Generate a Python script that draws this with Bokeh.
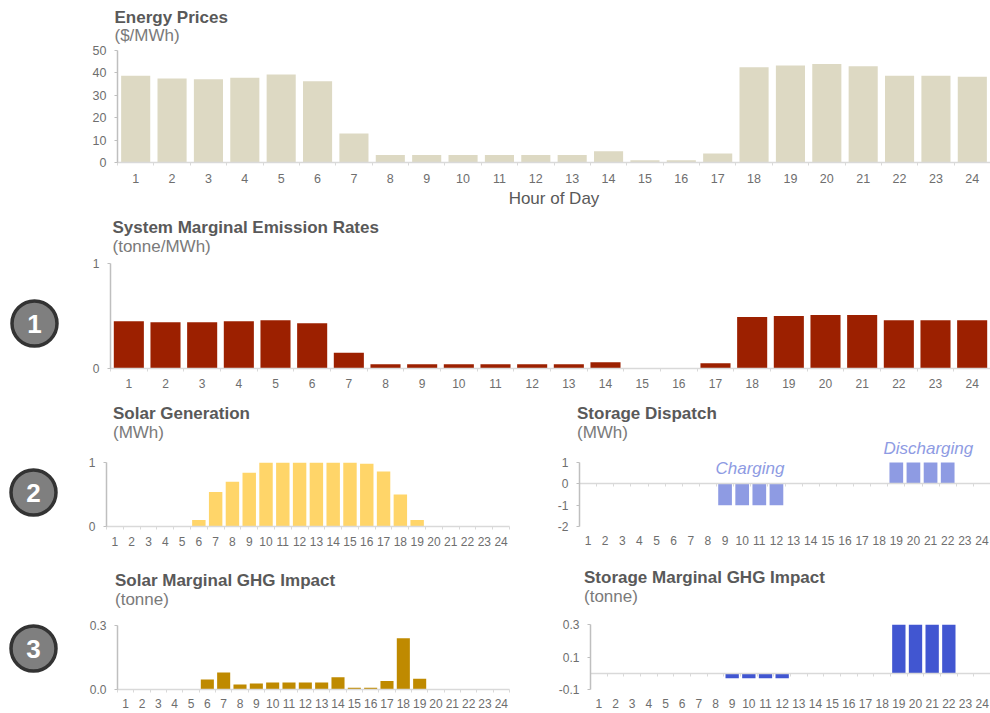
from bokeh.embed import file_html
from bokeh.resources import INLINE
from bokeh.plotting import figure
from bokeh.layouts import row, column
from bokeh.models import Range1d, LinearAxis, FixedTicker, Label, Title

hours = list(range(1, 25))
hour_labels = [str(h) for h in hours]

energy_prices = [38.7, 37.5, 37.2, 37.8, 39.3, 36.3, 13, 3.3, 3.3, 3.3, 3.3, 3.3, 3.3, 5, 1, 1, 4,
                 42.5, 43.3, 44, 43, 38.7, 38.7, 38.3]
emission_rates = [0.45, 0.44, 0.44, 0.45, 0.46, 0.43, 0.15, 0.04, 0.04, 0.04, 0.04, 0.04, 0.04, 0.06,
                  0, 0, 0.05, 0.49, 0.50, 0.51, 0.51, 0.46, 0.46, 0.46]
solar_generation = [0, 0, 0, 0, 0, 0.10, 0.54, 0.70, 0.84, 1, 1, 1, 1, 1, 1, 0.98, 0.86, 0.50, 0.10,
                    0, 0, 0, 0, 0]
storage_dispatch = [0, 0, 0, 0, 0, 0, 0, 0, -1, -1, -1, -1, 0, 0, 0, 0, 0, 0, 1, 1, 1, 1, 0, 0]
solar_ghg = [0, 0, 0, 0, 0, 0.047, 0.08, 0.023, 0.028, 0.033, 0.033, 0.033, 0.033, 0.058, 0.008, 0.008,
             0.04, 0.24, 0.05, 0, 0, 0, 0, 0]
storage_ghg = [0, 0, 0, 0, 0, 0, 0, 0, -0.03, -0.03, -0.03, -0.03, 0, 0, 0, 0, 0, 0, 0.3, 0.3, 0.3, 0.3, 0, 0]

FONT = "Liberation Sans"
TITLE_C, UNIT_C, TICK_C = "#595959", "#7a7a7a", "#6e6e6e"
Y_LINE, X_LINE = "#bfbfbf", "#d9d9d9"
CHARGE_C = "#8E9BE3"


def panel(box, frame, values, color, yr, yticks, ytext, title, unit, title_x, unit_gap=2, title_gap=0,
          width_frac=0.8, label_size="12px", standoff=6, zero_axis=False, extra=None, axis_label=None,
          y_bounds="auto"):
    left, right, top, bottom = box
    fl, fr, ft, fb = frame
    p = figure(width=right - left, height=bottom - top, output_backend="svg", toolbar_location=None,
               x_axis_location=None, y_axis_location=None, outline_line_color=None,
               x_range=Range1d(0.5, 24.5), y_range=Range1d(*yr),
               min_border_left=fl - left, min_border_right=right - fr,
               min_border_top=ft - top, min_border_bottom=bottom - fb)
    p.grid.visible = False
    p.vbar(x=hours, top=values, bottom=0, width=width_frac, fill_color=color, line_color=None)

    yax = LinearAxis(ticker=FixedTicker(ticks=yticks), major_label_overrides=dict(zip(yticks, ytext)),
                     axis_line_color=Y_LINE, axis_line_width=1.5, major_tick_line_color=Y_LINE,
                     major_tick_out=3, major_tick_in=0, minor_tick_out=0, minor_tick_in=0,
                     major_label_text_font=FONT, major_label_text_font_size=label_size,
                     major_label_text_color=TICK_C, major_label_standoff=8, bounds=y_bounds)
    p.add_layout(yax, "left")

    bounds = [h + 0.5 for h in [0] + hours]
    xax = LinearAxis(ticker=FixedTicker(ticks=hours, minor_ticks=bounds),
                     major_label_overrides=dict(zip(hours, hour_labels)),
                     axis_line_color=None if zero_axis else X_LINE, axis_line_width=1.5,
                     major_tick_line_color=None, major_tick_out=0, major_tick_in=0,
                     minor_tick_line_color=None if zero_axis else X_LINE, minor_tick_out=3, minor_tick_in=0,
                     major_label_text_font=FONT, major_label_text_font_size=label_size,
                     major_label_text_color=TICK_C, major_label_standoff=standoff)
    if axis_label:
        xax.axis_label = axis_label
        xax.axis_label_text_font = FONT
        xax.axis_label_text_font_size = "17px"
        xax.axis_label_text_font_style = "normal"
        xax.axis_label_text_color = TITLE_C
        xax.axis_label_standoff = 3
    p.add_layout(xax, "below")

    if zero_axis:
        zax = LinearAxis(ticker=FixedTicker(ticks=[], minor_ticks=bounds), fixed_location=0,
                         axis_line_color=X_LINE, axis_line_width=1.5,
                         major_tick_line_color=None, minor_tick_line_color=X_LINE,
                         minor_tick_out=3, minor_tick_in=0, major_label_text_font_size="0px")
        p.add_layout(zax, "below")

    if extra:
        extra(p)
    p.add_layout(Title(text=unit, text_font=FONT, text_font_size="17px", text_font_style="normal",
                       text_color=UNIT_C, align="left", offset=title_x - fl, standoff=unit_gap), "above")
    p.add_layout(Title(text=title, text_font=FONT, text_font_size="17px", text_font_style="bold",
                       text_color=TITLE_C, align="left", offset=title_x - fl, standoff=title_gap), "above")
    return p


def storage_notes(p):
    p.add_layout(Title(text="Discharging", text_font=FONT, text_font_size="17px", text_font_style="italic",
                       text_color=CHARGE_C, align="left", offset=304, standoff=2), "above")
    p.add_layout(Label(x=136, y=58, x_units="screen", y_units="screen", text="Charging",
                       text_font=FONT, text_font_size="17px", text_font_style="italic",
                       text_color=CHARGE_C, text_baseline="middle"))


p1 = panel((60, 990, 0, 214), (117, 990, 50, 162), energy_prices, "#DDD9C3", (0, 50),
           [0, 10, 20, 30, 40, 50], ["0", "10", "20", "30", "40", "50"],
           "Energy Prices", "($/MWh)", 114, unit_gap=12, title_gap=-18,
           label_size="12.5px", standoff=8, axis_label="Hour of Day")

p2 = panel((60, 990, 214, 390), (110, 990, 263, 368), emission_rates, "#9C2000", (0, 1),
           [0, 1], ["0", "1"], "System Marginal Emission Rates", "(tonne/MWh)", 112,
           width_frac=0.82, standoff=7, unit_gap=16, title_gap=-20)

p3 = panel((60, 540, 390, 552), (106, 509, 462, 526), solar_generation, "#FFD569", (0, 1),
           [0, 1], ["0", "1"], "Solar Generation", "(MWh)", 112.5, unit_gap=42, title_gap=-46, standoff=7)

p4 = panel((540, 990, 390, 552), (579, 990, 458, 526), storage_dispatch, CHARGE_C, (-2, 1.1875),
           [-2, -1, 0, 1], ["-2", "-1", "0", "1"], "Storage Dispatch", "(MWh)", 576.5, unit_gap=-12, title_gap=8,
           zero_axis=True, extra=storage_notes, y_bounds=(-2, 1))

p5 = panel((60, 540, 552, 710), (117, 509, 625, 689), solar_ghg, "#BF8A00", (0, 0.3),
           [0, 0.3], ["0.0", "0.3"], "Solar Marginal GHG Impact", "(tonne)", 114.5, unit_gap=34, title_gap=-38)

p6 = panel((540, 990, 552, 710), (590, 990, 624, 689), storage_ghg, "#4156D1", (-0.1, 0.3),
           [-0.1, 0.1, 0.3], ["-0.1", "0.1", "0.3"], "Storage Marginal GHG Impact", "(tonne)", 583.5,
           unit_gap=38, title_gap=-42, zero_axis=True)

badge_labels = ["1", "2", "3"]
badge_x = [34, 33, 33]
badge_y = [323, 492, 648]
badge = figure(width=60, height=710, output_backend="svg", toolbar_location=None,
               x_axis_location=None, y_axis_location=None, outline_line_color=None,
               x_range=Range1d(0, 60), y_range=Range1d(710, 0),
               min_border_left=0, min_border_right=0, min_border_top=0, min_border_bottom=0)
badge.grid.visible = False
badge.scatter(x=badge_x, y=badge_y, size=45, fill_color="#7f7f7f", line_color="#333333", line_width=3.5)
badge.text(x=badge_x, y=badge_y, text=badge_labels, text_color="white", text_font_style="bold",
           text_font_size="26px", text_align="center", text_baseline="middle", text_font={"value": FONT})

charts = column(row(p1, spacing=0), row(p2, spacing=0),
                row(column(p3, spacing=0), column(p4, spacing=0), spacing=0),
                row(column(p5, spacing=0), column(p6, spacing=0), spacing=0), spacing=0)
root = row(badge, charts, spacing=0)

open("out.html", "w").write(file_html(root, INLINE))
